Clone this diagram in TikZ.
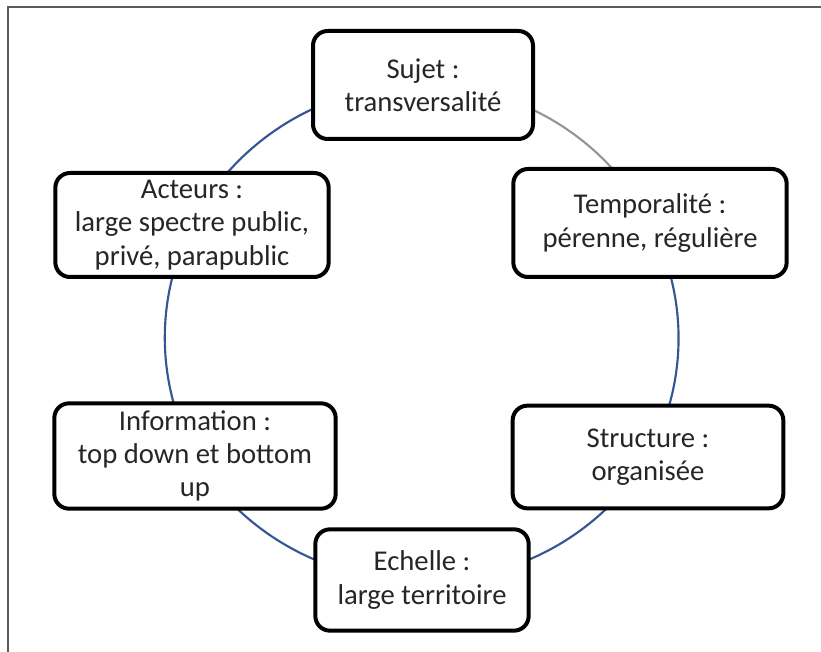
\documentclass[tikz,border=0pt]{standalone}
\usepackage{fontspec}
\setmainfont{Carlito}
\usepackage{tikz}
\usetikzlibrary{backgrounds}

\definecolor{ringblue}{RGB}{52,86,148}
\definecolor{ringgray}{RGB}{150,150,150}
\definecolor{framegray}{RGB}{90,90,90}

\begin{document}
\begin{tikzpicture}[x=0.75pt,y=-0.75pt,
    box/.style={draw,line width=3pt,rounded corners=11pt,fill=white,
      align=center,inner sep=2pt,font=\fontsize{21.5}{25}\selectfont,text=black!85},
    ring/.style={line width=1.6pt,ringblue,looseness=0.91}]
                \useasboundingbox (0,0) rectangle (821,652);
                % Frame
                \draw[framegray,line width=1.2pt] (8,652) -- (8,7) -- (821,7);

                % Boxes
                \node[box,minimum width=165pt,minimum height=81pt] (sujet) at (423,85) {Sujet :\\transversalité};
                \node[box,minimum width=205pt,minimum height=81pt] (temporalite) at (650,223) {Temporalité :\\pérenne, régulière};
                \node[box,minimum width=203pt,minimum height=77pt] (structure) at (648,457) {Structure :\\organisée};
                \node[box,minimum width=160pt,minimum height=76pt] (echelle) at (422,580) {Echelle :\\large territoire};
                \node[box,minimum width=211pt,minimum height=79pt] (information) at (195,456) {Information :\\top down et bottom\\up};
                \node[box,minimum width=205pt,minimum height=78pt] (acteurs) at (192,225) {Acteurs :\\large spectre public,\\privé, parapublic};

                % Ring (behind the boxes)
                \begin{scope}[on background layer]
                \draw[ring,ringgray] (sujet.center) to[bend left=31.7] (temporalite.center);
                \draw[ring] (temporalite.center) to[bend left=28.2] (structure.center);
                \draw[ring] (structure.center) to[bend left=30.1] (echelle.center);
                \draw[ring] (echelle.center) to[bend left=30.3] (information.center);
                \draw[ring] (information.center) to[bend left=27.7] (acteurs.center);
                \draw[ring] (acteurs.center) to[bend left=32] (sujet.center);
                \end{scope}
            \end{tikzpicture}
\end{document}
